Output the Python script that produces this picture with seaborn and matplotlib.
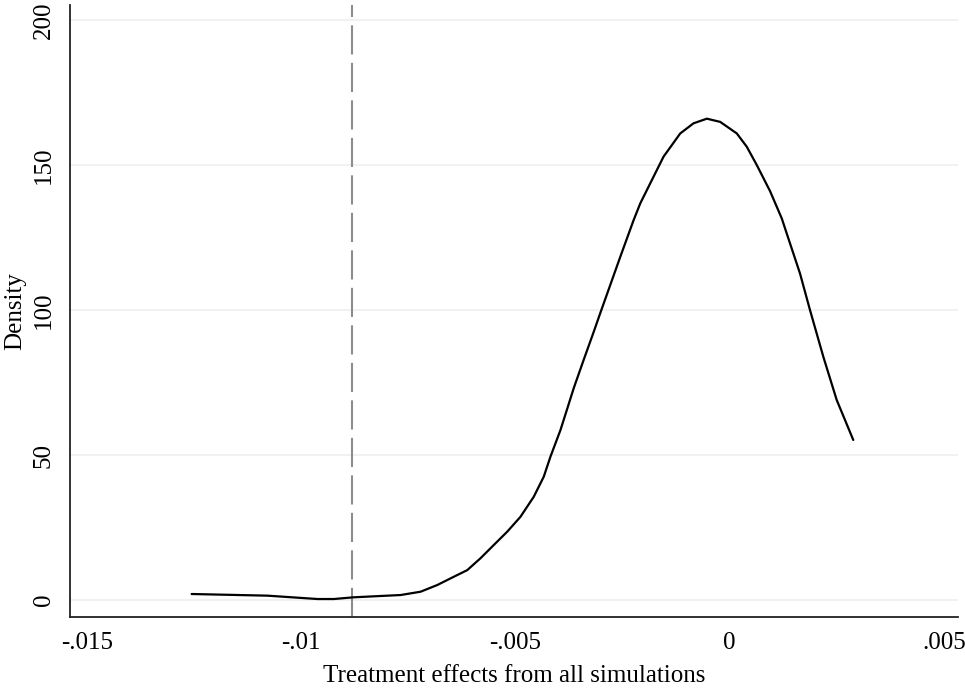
import pandas as pd
import matplotlib
matplotlib.use("Agg")
import matplotlib.pyplot as plt
import seaborn as sns

# Kernel density estimate
effect = [-0.01256, -0.01079, -0.00962, -0.00924, -0.00879, -0.00768,
          -0.007215, -0.006825, -0.006438, -0.006126, -0.005816, -0.005506,
          -0.005193, -0.004883, -0.004573, -0.00434, -0.004184, -0.00395,
          -0.003795, -0.003641, -0.003408, -0.003175, -0.003019, -0.002552,
          -0.002242, -0.002086, -0.001776, -0.001543, -0.001154, -0.000844,
          -0.000531, -0.000221, 0.000168, 0.000401, 0.000634, 0.000944,
          0.001217, 0.001333, 0.001643, 0.001876, 0.002187, 0.002499, 0.002886]
density = [2.07, 1.5, 0.34, 0.34, 0.92, 1.72,
           2.86, 5.17, 8.03, 10.3, 14.4, 18.97,
           23.55, 28.7, 35.6, 42.5, 49.4, 58.6,
           65.8, 73.0, 82.8, 92.4, 99.0, 118.4,
           131.0, 136.8, 146.0, 152.9, 160.9, 164.4,
           166.0, 164.9, 160.9, 156.3, 150.0, 141.0,
           131.6, 126.4, 112.6, 100.0, 83.9, 69.0, 55.2]

true_effect = -0.00881

xticks = [-0.015, -0.01, -0.005, 0, 0.005]
xtick_labels = ["-.015", "-.01", "-.005", "0", ".005"]
yticks = [0, 50, 100, 150, 200]

df = pd.DataFrame({"effect": effect, "density": density})

sns.set_style("white")
plt.rcParams["font.family"] = ["Liberation Serif", "DejaVu Serif"]
plt.rcParams["text.color"] = "black"
plt.rcParams["axes.labelcolor"] = "black"
plt.rcParams["xtick.color"] = "black"
plt.rcParams["ytick.color"] = "black"

fig = plt.figure(figsize=(9.65, 6.88), dpi=100)
ax = fig.add_axes([0.0725, 0.1032, 0.9202, 0.8895])

# horizontal grid lines
for yv in yticks:
    ax.axhline(yv, color="#e9f0f3", lw=1.2, zorder=0)

sns.lineplot(data=df, x="effect", y="density", color="black", lw=1.6,
             sort=False, ax=ax, zorder=3)

ax.axvline(true_effect, color="#8c8c8c", lw=1.5, dashes=(14, 4), zorder=2)

ax.set_xlim(-0.0154, 0.00533)
ax.set_ylim(-5.86, 205.2)
ax.set_xticks(xticks)
ax.set_xticklabels(xtick_labels)
ax.set_yticks(yticks)
ax.set_yticklabels([str(v) for v in yticks], rotation=90, va="center")

ax.tick_params(axis="both", direction="out", length=7, width=1.1,
               color="#222222", labelsize=18, pad=4)
for side in ["top", "right"]:
    ax.spines[side].set_visible(False)
for side in ["left", "bottom"]:
    ax.spines[side].set_color("#222222")
    ax.spines[side].set_linewidth(1.3)

ax.set_xlabel("Treatment effects from all simulations", fontsize=18, labelpad=8)
ax.set_ylabel("Density", fontsize=18, labelpad=5)

fig.savefig("out.png", dpi=100)
